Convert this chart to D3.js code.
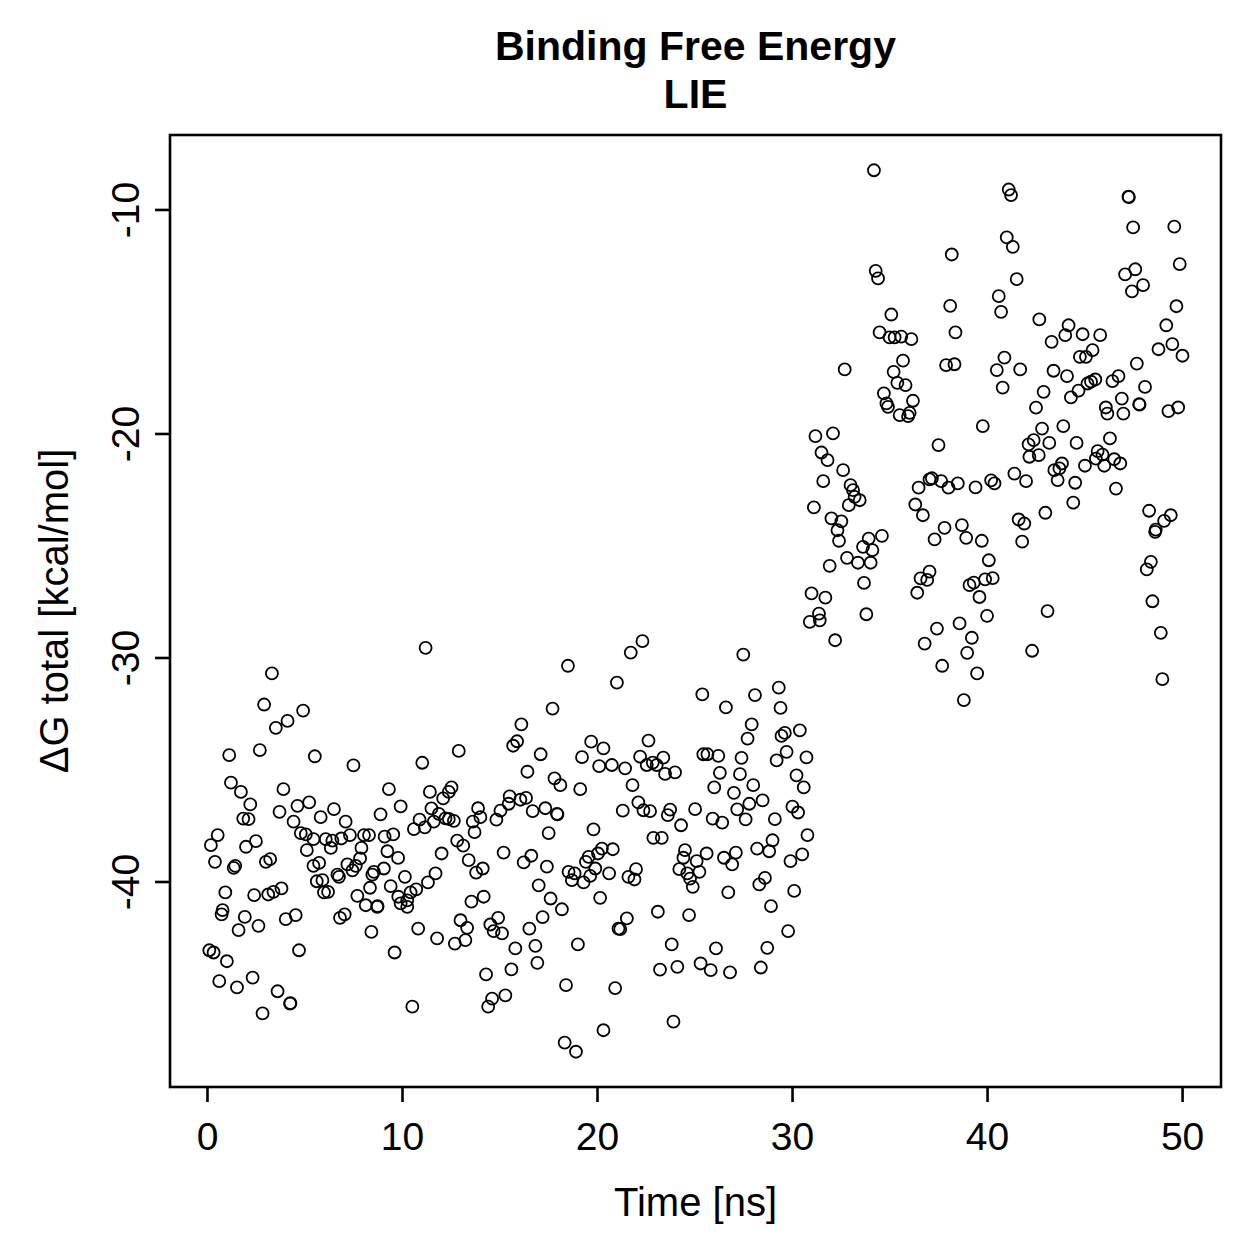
<!DOCTYPE html>
<html>
<head>
<meta charset="utf-8">
<script src="https://cdn.jsdelivr.net/npm/d3@7"></script>
<style>
  html, body { margin: 0; padding: 0; background: #fff; }
  svg { display: block; }
  text { font-family: "Liberation Sans", Arial, Helvetica, sans-serif; fill: #000; }
</style>
</head>
<body>
<svg id="chart" width="1259" height="1259"></svg>
<script>
// ---- data ----
const titleLines = ["Binding Free Energy", "LIE"];
const xLabel = "Time [ns]";
const yLabel = "\u0394G total [kcal/mol]";
const xTicks = [0, 10, 20, 30, 40, 50];
const yTicks = [-40, -30, -20, -10];

const timeNs = [
3.33,2.93,4.93,4.13,3.53,1.14,2.71,5.53,7.51,1.23,1.74,3.92,9.33,2.22,5.24,4.64,6.51,3.72,1.86,2.13,
5.83,8.90,4.44,7.11,9.93,0.55,4.81,5.07,5.46,6.09,6.43,6.89,7.33,8.05,8.31,9.11,9.55,2.51,0.20,2.00,
0.41,1.37,1.45,3.02,3.24,5.12,5.46,5.75,6.35,6.69,6.77,7.20,7.46,7.63,7.92,7.85,8.56,8.48,9.07,9.25,
9.80,8.36,9.42,0.94,2.42,3.14,3.41,3.82,5.63,5.92,6.00,6.21,7.71,8.14,8.73,8.75,0.80,0.75,1.94,1.62,
2.64,4.04,4.55,6.82,7.06,8.43,9.62,0.12,0.34,1.02,4.72,0.63,1.54,2.34,3.62,4.26,4.28,2.85,
11.21,18.51,17.72,16.12,15.90,15.70,12.91,11.04,17.11,19.70,20.33,19.23,20.11,16.43,17.82,18.12,19.14,11.43,12.54,12.40,
12.11,11.51,15.52,15.47,16.07,16.36,13.90,14.02,15.05,14.84,16.70,17.35,17.95,17.97,11.89,12.23,12.40,12.66,10.90,10.61,
11.17,11.63,13.63,13.72,17.52,19.82,12.83,13.14,
12.03,13.42,13.80,14.14,15.21,16.24,16.63,17.43,17.01,17.62,18.20,17.21,18.54,18.85,18.71,19.31,19.43,19.57,19.65,19.91,
20.05,20.25,20.16,10.15,10.44,10.73,10.27,10.27,9.93,9.81,11.33,11.72,13.56,14.19,10.83,11.80,12.71,13.25,13.34,13.00,
14.53,14.93,14.70,15.13,15.81,16.53,16.84,16.94,15.61,14.31,19.02,18.41,15.30,14.62,14.42,10.53,18.34,18.92,20.33,
22.33,21.73,27.50,21.02,25.40,28.10,29.32,26.61,29.41,27.93,27.72,29.46,29.63,30.40,22.64,22.21,22.55,22.86,23.06,23.40,
23.49,24.00,20.76,21.44,21.82,25.45,25.66,26.22,27.41,29.21,29.72,30.74,26.30,27.33,30.23,30.60,26.01,27.02,28.01,27.81,
28.49,27.19,27.62,22.12,22.38,22.72,21.32,23.75,23.63,25.03,24.31,25.93,26.42,29.12,30.02,30.31,30.79,22.89,23.32,29.00,
20.81,20.62,21.61,21.92,22.00,24.51,24.43,24.22,24.63,24.77,24.91,25.11,25.25,25.62,26.51,26.93,27.12,26.73,28.21,28.83,
28.32,28.61,29.92,30.52,30.11,28.92,23.12,24.72,21.53,21.19,21.10,29.80,23.83,26.10,28.73,23.23,24.12,25.31,25.83,26.82,
28.40,20.93,23.92,
34.20,38.19,34.29,34.41,35.09,38.11,38.38,34.49,35.00,35.26,35.60,36.12,35.69,35.21,32.70,35.40,35.82,37.90,38.33,34.71,
34.84,34.92,36.20,35.52,35.95,36.03,39.78,31.20,32.10,
37.51,31.51,31.82,32.62,31.60,33.00,33.13,33.21,33.47,32.91,31.12,32.02,32.53,32.33,32.41,33.93,33.64,34.12,34.61,32.82,
33.38,34.03,31.93,33.69,31.00,31.71,33.81,31.38,30.91,31.42,32.21,36.49,37.05,37.17,37.65,38.02,38.50,39.41,40.21,40.38,
36.32,36.71,37.31,37.82,38.71,38.93,39.73,40.09,36.59,37.05,36.93,36.42,39.10,39.32,39.90,40.29,39.61,40.00,38.59,37.43,
39.22,36.80,38.98,37.70,39.49,38.81,
41.11,41.23,47.25,47.27,47.49,49.60,41.01,41.32,49.88,47.08,47.60,48.00,47.43,41.52,40.60,40.72,42.68,49.71,44.18,44.01,
44.90,45.80,43.31,49.19,48.79,49.50,50.02,45.41,45.07,44.76,40.89,40.50,41.70,40.80,43.41,44.10,47.68,42.90,44.30,44.69,
45.15,45.33,45.55,46.43,46.74,48.10,42.51,42.82,43.91,46.09,46.17,46.99,46.91,47.80,47.82,49.30,49.80,
42.13,42.39,43.19,42.17,42.65,44.59,46.30,45.67,45.92,45.58,46.01,46.52,46.83,45.02,43.45,43.71,43.84,43.62,44.52,46.61,
41.40,42.00,44.42,42.99,41.62,41.91,41.80,48.31,49.42,49.08,48.65,48.62,48.40,48.19,48.48,43.10,48.91,42.31,48.99
];

const deltaG = [
-30.71,-32.10,-32.37,-32.83,-33.14,-34.36,-34.14,-34.41,-34.82,-35.59,-36.00,-35.88,-35.88,-36.56,-36.47,-36.62,-36.77,-36.89,-37.19,-37.22,
-37.13,-37.00,-37.33,-37.33,-36.65,-37.93,-37.84,-37.90,-38.11,-38.11,-38.18,-38.08,-37.93,-37.93,-37.93,-38.00,-37.90,-38.20,-38.38,-38.45,
-39.12,-39.39,-39.30,-39.12,-39.00,-38.60,-39.30,-39.17,-38.50,-39.69,-39.79,-39.24,-39.50,-39.30,-38.50,-38.97,-39.57,-39.69,-39.42,-38.65,
-38.95,-40.28,-40.21,-40.49,-40.61,-40.58,-40.46,-40.31,-39.99,-39.94,-40.49,-40.46,-40.64,-41.06,-41.13,-41.10,-41.28,-41.47,-41.58,-42.17,
-41.98,-41.68,-41.50,-41.62,-41.47,-42.25,-43.17,-43.07,-43.17,-43.56,-43.07,-44.45,-44.73,-44.29,-44.90,-45.45,-45.43,-45.89,
-29.57,-30.37,-32.28,-32.99,-33.74,-33.94,-34.17,-34.70,-34.32,-33.76,-34.06,-34.45,-34.85,-35.10,-35.40,-35.70,-35.88,-36.00,-35.80,-36.00,
-36.29,-36.74,-36.20,-36.53,-36.35,-36.27,-36.73,-37.13,-36.84,-37.24,-36.86,-36.73,-36.98,-37.00,-36.98,-37.18,-37.21,-37.29,-37.24,-37.66,
-37.58,-37.33,-37.33,-37.80,-37.84,-37.67,-38.18,-38.40,
-38.75,-39.05,-39.60,-39.42,-38.71,-39.15,-38.85,-39.34,-40.17,-40.76,-41.24,-41.59,-39.57,-39.64,-39.94,-40.04,-39.12,-38.90,-39.75,-39.42,
-38.75,-38.53,-40.73,-39.79,-40.49,-40.35,-40.84,-41.13,-40.98,-40.68,-40.04,-39.64,-40.90,-40.68,-42.10,-42.54,-42.77,-42.62,-42.07,-41.73,
-41.92,-41.62,-42.22,-42.32,-42.99,-42.10,-42.87,-43.63,-43.92,-44.15,-42.81,-44.63,-45.08,-45.23,-45.59,-45.59,-47.19,-47.60,-46.64,
-29.27,-29.78,-29.87,-31.12,-31.65,-31.68,-31.35,-32.23,-32.25,-32.99,-33.62,-33.50,-33.37,-33.25,-33.71,-34.43,-34.80,-34.69,-34.80,-34.47,
-35.20,-35.13,-34.80,-34.95,-35.70,-34.32,-34.32,-34.39,-34.48,-34.59,-34.21,-34.46,-35.15,-35.21,-35.26,-35.80,-35.80,-36.04,-35.70,-36.53,
-36.38,-36.78,-37.23,-36.47,-36.82,-36.86,-36.84,-36.79,-37.04,-36.77,-37.49,-37.19,-37.37,-37.22,-36.66,-36.92,-37.93,-38.05,-38.05,-38.16,
-38.56,-39.64,-39.79,-39.91,-39.45,-38.60,-38.94,-39.45,-39.64,-39.87,-40.24,-39.09,-39.57,-38.75,-38.94,-39.24,-38.71,-40.49,-38.53,-38.65,
-40.13,-39.84,-39.09,-38.79,-40.42,-41.10,-41.35,-41.50,-41.65,-42.13,-42.10,-42.22,-42.81,-42.99,-42.96,-43.93,-43.81,-43.66,-43.96,-44.06,
-43.84,-44.76,-46.26,
-8.25,-12.01,-12.74,-13.08,-14.69,-14.30,-15.49,-15.49,-15.71,-15.71,-15.68,-15.79,-16.75,-17.25,-17.14,-17.74,-17.84,-16.95,-16.91,-18.21,
-18.66,-18.81,-18.54,-19.18,-19.23,-19.08,-19.67,-20.12,-20.00,
-20.52,-20.85,-21.19,-21.64,-22.13,-22.31,-22.53,-22.83,-22.98,-23.20,-23.30,-23.79,-23.92,-24.32,-24.79,-24.69,-25.06,-25.21,-24.57,-25.55,
-25.77,-25.77,-25.91,-26.67,-27.14,-27.33,-28.07,-28.04,-28.41,-28.34,-29.23,-22.42,-22.05,-22.00,-22.13,-22.42,-22.23,-22.41,-22.09,-22.23,
-23.17,-23.65,-24.73,-24.21,-24.09,-24.66,-24.79,-25.66,-26.47,-26.17,-26.54,-27.11,-26.77,-26.66,-26.51,-26.46,-27.30,-28.14,-28.48,-28.71,
-29.12,-29.38,-29.79,-30.37,-30.71,-31.90,
-9.11,-9.36,-9.43,-9.45,-10.80,-10.77,-11.25,-11.67,-12.44,-12.90,-12.67,-13.38,-13.66,-13.11,-13.87,-14.57,-14.91,-14.32,-15.17,-15.61,
-15.57,-15.61,-15.91,-15.17,-16.24,-16.01,-16.53,-16.28,-16.58,-16.58,-16.61,-17.17,-17.14,-17.95,-17.20,-17.44,-16.88,-18.14,-18.39,-18.09,
-17.77,-17.69,-17.59,-17.66,-17.44,-17.92,-18.85,-19.78,-19.67,-18.84,-19.11,-19.11,-18.44,-18.69,-18.71,-19.00,-18.84,
-20.49,-20.30,-20.42,-21.04,-20.97,-20.42,-20.22,-20.79,-20.94,-21.12,-21.44,-21.15,-21.34,-21.44,-21.64,-21.56,-21.34,-22.08,-22.20,-22.46,
-21.79,-22.13,-23.09,-23.54,-23.84,-24.02,-24.83,-23.45,-23.65,-23.90,-24.29,-24.39,-25.73,-26.07,-27.49,-27.93,-28.90,-29.70,-30.97
];

// ---- layout ----
const W = 1259, H = 1259;
const plot = { left: 170, right: 1221, top: 135, bottom: 1087 };
const svg = d3.select("#chart");

const points = timeNs.map((t, i) => ({ t, g: deltaG[i] }));

// R-style 4% padding around data range
const xExt = [0.1, 50.0];
const yExt = d3.extent(deltaG);
const xPad = (xExt[1] - xExt[0]) * 0.04;
const yPad = (yExt[1] - yExt[0]) * 0.04;

const x = d3.scaleLinear().domain([xExt[0] - xPad, xExt[1] + xPad]).range([plot.left, plot.right]);
const y = d3.scaleLinear().domain([yExt[0] - yPad, yExt[1] + yPad]).range([plot.bottom, plot.top]);

// points
svg.append("g")
  .selectAll("circle")
  .data(points)
  .join("circle")
  .attr("cx", d => x(d.t))
  .attr("cy", d => y(d.g))
  .attr("r", 6)
  .attr("fill", "none")
  .attr("stroke", "#000")
  .attr("stroke-width", 1.8);

// box
svg.append("rect")
  .attr("x", plot.left).attr("y", plot.top)
  .attr("width", plot.right - plot.left).attr("height", plot.bottom - plot.top)
  .attr("fill", "none").attr("stroke", "#000").attr("stroke-width", 2.6);

// x axis
const xAxis = d3.axisBottom(x).tickValues(xTicks).tickSize(15).tickPadding(20).tickFormat(d3.format("d"));
const gx = svg.append("g").attr("transform", `translate(0,${plot.bottom})`).call(xAxis);
gx.select(".domain").remove();
gx.selectAll(".tick line").attr("stroke", "#000").attr("stroke-width", 2.6);
gx.selectAll(".tick text")
  .attr("font-family", "'Liberation Sans', Arial, sans-serif")
  .attr("font-size", 39).attr("fill", "#000");

// y axis (labels rotated, R default las=0)
const yAxis = d3.axisLeft(y).tickValues(yTicks).tickSize(15).tickFormat(d => String(d));
const gy = svg.append("g").attr("transform", `translate(${plot.left},0)`).call(yAxis);
gy.select(".domain").remove();
gy.selectAll(".tick line").attr("stroke", "#000").attr("stroke-width", 2.6);
gy.selectAll(".tick text")
  .attr("font-family", "'Liberation Sans', Arial, sans-serif")
  .attr("font-size", 39).attr("fill", "#000")
  .attr("x", null).attr("dy", null)
  .attr("text-anchor", "middle")
  .attr("transform", "translate(-31,0) rotate(-90)");

// titles
svg.append("text").attr("x", (plot.left + plot.right) / 2).attr("y", 60)
  .attr("text-anchor", "middle").attr("font-weight", "bold").attr("font-size", 41)
  .text(titleLines[0]);
svg.append("text").attr("x", (plot.left + plot.right) / 2).attr("y", 108)
  .attr("text-anchor", "middle").attr("font-weight", "bold").attr("font-size", 41)
  .text(titleLines[1]);

// axis labels
svg.append("text").attr("x", (plot.left + plot.right) / 2).attr("y", 1216)
  .attr("text-anchor", "middle").attr("font-size", 40).text(xLabel);
svg.append("text")
  .attr("transform", `translate(68,${(plot.top + plot.bottom) / 2}) rotate(-90)`)
  .attr("text-anchor", "middle").attr("font-size", 40).text(yLabel);
</script>
</body>
</html>
